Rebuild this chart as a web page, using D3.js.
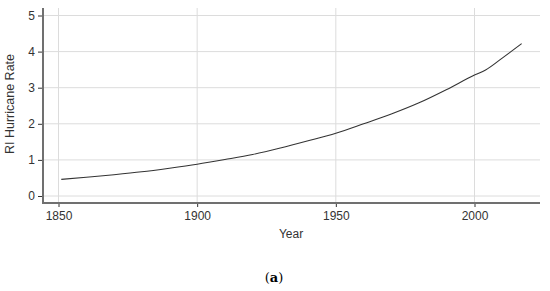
<!DOCTYPE html>
<html><head><meta charset="utf-8">
<script src="https://cdn.jsdelivr.net/npm/d3@7/dist/d3.min.js"></script>
<style>body{margin:0;background:#fff}svg{display:block}</style>
</head><body><svg id="c" width="550" height="291"></svg>
<script>
const years = [1851,1860,1870,1880,1890,1900,1910,1920,1930,1940,1950,1960,1970,1980,1990,2000,2004,2010,2017];
const rates = [0.46,0.52,0.59,0.67,0.77,0.88,1.01,1.15,1.33,1.53,1.74,2.00,2.27,2.58,2.95,3.35,3.49,3.82,4.22];
const xTicks = [1850,1900,1950,2000];
const yTicks = [0,1,2,3,4,5];

const svg = d3.select("#c");
const x = d3.scaleLinear().domain([1850,2000]).range([58.5,474.5]);
const y = d3.scaleLinear().domain([0,5]).range([196,15.5]);
const pLeft=43, pRight=540, pTop=8, pBottom=203;
const font = "Liberation Sans, Arial, sans-serif";

// grid
svg.append("g").selectAll("line").data(yTicks).join("line")
  .attr("x1",pLeft).attr("x2",pRight).attr("y1",d=>y(d)).attr("y2",d=>y(d))
  .attr("stroke","#dcdcdc").attr("stroke-width",1);
svg.append("g").selectAll("line").data(xTicks).join("line")
  .attr("x1",d=>x(d)).attr("x2",d=>x(d)).attr("y1",pTop).attr("y2",pBottom)
  .attr("stroke","#dcdcdc").attr("stroke-width",1);

// axes
const xAxis = d3.axisBottom(x).tickValues(xTicks).tickFormat(d3.format("d")).tickSize(4).tickPadding(4);
const gx = svg.append("g").attr("transform",`translate(0,${pBottom})`).call(xAxis);
gx.select(".domain").remove();
gx.append("line").attr("x1",pLeft).attr("x2",pRight).attr("stroke","#707070").attr("stroke-width",2);
gx.selectAll(".tick line").attr("stroke","#333");
gx.selectAll("text").attr("font-family",font).attr("font-size",12).attr("fill","#333");

const yAxis = d3.axisLeft(y).tickValues(yTicks).tickFormat(d3.format("d")).tickSize(5).tickPadding(3);
const gy = svg.append("g").attr("transform",`translate(${pLeft},0)`).call(yAxis);
gy.select(".domain").remove();
gy.append("line").attr("y1",pTop).attr("y2",pBottom+1).attr("stroke","#707070").attr("stroke-width",2);
gy.selectAll(".tick line").attr("stroke","#333");
gy.selectAll("text").attr("font-family",font).attr("font-size",12).attr("fill","#333");

// line
svg.append("path").datum(years.map((d,i)=>[d,rates[i]]))
  .attr("fill","none").attr("stroke","#333").attr("stroke-width",1.1)
  .attr("d", d3.line().x(d=>x(d[0])).y(d=>y(d[1])).curve(d3.curveMonotoneX));

// labels
svg.append("text").attr("x",291).attr("y",238).attr("text-anchor","middle")
  .attr("font-family",font).attr("font-size",12).attr("fill","#333").text("Year");
svg.append("text").attr("transform","translate(14,104) rotate(-90)").attr("text-anchor","middle")
  .attr("font-family",font).attr("font-size",12.5).attr("fill","#333").text("RI Hurricane Rate");
const cap = svg.append("text").attr("x",274).attr("y",282).attr("text-anchor","middle")
  .attr("font-family","DejaVu Serif, serif").attr("font-size",13).attr("fill","#000");
cap.append("tspan").text("(");
cap.append("tspan").attr("font-weight","bold").text("a");
cap.append("tspan").text(")");
</script></body></html>
